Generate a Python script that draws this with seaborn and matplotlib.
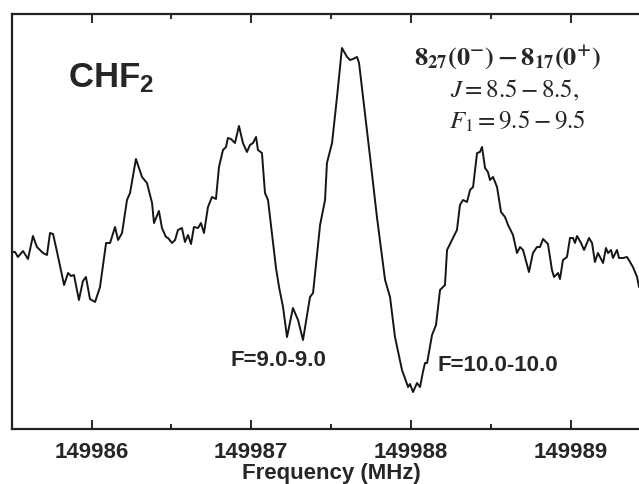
import numpy as np
import pandas as pd
import seaborn as sns
import matplotlib.pyplot as plt
from matplotlib.ticker import MultipleLocator, StrMethodFormatter

# spectrum (frequency in MHz, intensity in arbitrary units)
freq = [
    149985.502, 149985.521, 149985.539, 149985.571, 149985.602, 149985.633, 149985.658,
    149985.696, 149985.721, 149985.740, 149985.759, 149985.784, 149985.828, 149985.853,
    149985.871, 149985.890, 149985.921, 149985.946, 149985.965, 149985.990, 149986.022,
    149986.053, 149986.091, 149986.116, 149986.147, 149986.166, 149986.191, 149986.222,
    149986.241, 149986.278, 149986.316, 149986.347, 149986.379, 149986.391, 149986.422,
    149986.441, 149986.466, 149986.479, 149986.504, 149986.523, 149986.541, 149986.566,
    149986.585, 149986.604, 149986.623, 149986.641, 149986.667, 149986.685, 149986.704,
    149986.729, 149986.754, 149986.779, 149986.798, 149986.823, 149986.842, 149986.854,
    149986.873, 149986.898, 149986.923, 149986.948, 149986.973, 149986.992, 149987.011,
    149987.030, 149987.042, 149987.067, 149987.086, 149987.105, 149987.155, 149987.174,
    149987.199, 149987.224, 149987.261, 149987.293, 149987.324, 149987.368, 149987.387,
    149987.431, 149987.462, 149987.474, 149987.506, 149987.537, 149987.568, 149987.600,
    149987.618, 149987.637, 149987.662, 149987.675, 149987.700, 149987.744, 149987.787,
    149987.838, 149987.869, 149987.900, 149987.944, 149987.982, 149987.994, 149988.013,
    149988.038, 149988.057, 149988.075, 149988.088, 149988.101, 149988.132, 149988.157,
    149988.182, 149988.213, 149988.226, 149988.257, 149988.288, 149988.307, 149988.326,
    149988.351, 149988.370, 149988.389, 149988.414, 149988.432, 149988.445, 149988.464,
    149988.482, 149988.495, 149988.514, 149988.539, 149988.564, 149988.589, 149988.608,
    149988.639, 149988.664, 149988.683, 149988.702, 149988.739, 149988.764, 149988.789,
    149988.808, 149988.827, 149988.858, 149988.883, 149988.896, 149988.921, 149988.933,
    149988.952, 149988.977, 149988.996, 149989.015, 149989.027, 149989.040, 149989.065,
    149989.084, 149989.115, 149989.134, 149989.152, 149989.171, 149989.203, 149989.221,
    149989.234, 149989.253, 149989.265, 149989.290, 149989.303, 149989.328, 149989.353,
    149989.372, 149989.390, 149989.416, 149989.428,
]
intensity = [
    177, 177, 172, 178, 170, 193, 182,
    176, 174, 196, 195, 177, 144, 156,
    153, 154, 129, 148, 152, 130, 127,
    142, 186, 186, 202, 189, 196, 229,
    236, 270, 252, 246, 226, 206, 218,
    201, 192, 191, 186, 189, 199, 201,
    187, 194, 185, 202, 201, 206, 196,
    222, 232, 230, 262, 279, 282, 291,
    290, 286, 303, 286, 277, 284, 286,
    292, 279, 276, 236, 229, 161, 142,
    122, 92, 121, 109, 89, 132, 136,
    204, 229, 266, 286, 332, 381, 372,
    369, 370, 372, 366, 332, 272, 212,
    149, 132, 92, 59, 42, 45, 37,
    46, 42, 57, 66, 66, 94, 104,
    139, 144, 179, 189, 199, 224, 229,
    227, 239, 242, 276, 277, 282, 261,
    257, 249, 252, 242, 217, 212, 204,
    194, 176, 182, 179, 157, 176, 182,
    182, 190, 185, 159, 152, 156, 150,
    169, 172, 191, 191, 186, 193, 186,
    179, 191, 186, 167, 176, 166, 181,
    176, 179, 171, 179, 171, 171, 172,
    167, 162, 152, 142,
]
major_ticks = [149986, 149987, 149988, 149989]

df = pd.DataFrame({"Frequency": freq, "Intensity": intensity})

sns.set_style("ticks")
plt.rcParams["font.family"] = ["Liberation Sans", "DejaVu Sans"]
plt.rcParams["mathtext.fontset"] = "custom"
plt.rcParams["mathtext.bf"] = "Liberation Sans:bold"
plt.rcParams["mathtext.rm"] = "Liberation Sans:bold"

fig = plt.figure(figsize=(6.39, 4.84), dpi=100)
ax = fig.add_axes([0.0183, 0.1136, 0.9817, 0.8569])

sns.lineplot(data=df, x="Frequency", y="Intensity", estimator=None,
             color="#151515", linewidth=1.4, ax=ax)

ax.set_xlim(149985.5, 149989.428)
ax.set_ylim(0, 414.7)
ax.set_xticks(major_ticks)
ax.xaxis.set_minor_locator(MultipleLocator(0.5))
ax.xaxis.set_major_formatter(StrMethodFormatter("{x:.0f}"))
ax.set_yticks([])
ax.tick_params(axis="x", which="both", direction="in", top=True, width=1.4,
               labelsize=16, pad=9)
ax.tick_params(axis="x", which="major", length=6.5)
ax.tick_params(axis="x", which="minor", length=3.5)
for lbl in ax.get_xticklabels():
    lbl.set_fontweight("bold")
ax.set_xlabel("Frequency (MHz)", fontsize=16, fontweight="bold")
ax.xaxis.set_label_coords(0.509, -0.083)
ax.set_ylabel("")
for side in ["left", "top", "bottom"]:
    ax.spines[side].set_linewidth(1.6)
    ax.spines[side].set_color("#222222")
ax.spines["right"].set_visible(False)

ax.text(0.0897, 0.825, r"$\mathbf{CHF_2}$", transform=ax.transAxes,
        fontsize=25, ha="left", va="baseline")

ax.text(0.791, 0.895, r"$\mathbf{8_{27}(0^{-})-8_{17}(0^{+})}$", transform=ax.transAxes,
        fontsize=19, ha="center", va="center", math_fontfamily="stix")
ax.text(0.801, 0.817, r"$J=8.5-8.5,$", transform=ax.transAxes,
        fontsize=18, ha="center", va="center", math_fontfamily="stix",
        fontweight="normal")
ax.text(0.806, 0.743, r"$F_1=9.5-9.5$", transform=ax.transAxes,
        fontsize=18, ha="center", va="center", math_fontfamily="stix",
        fontweight="normal")

ax.text(149986.867, 69, "F=9.0-9.0", fontsize=16, fontweight="bold",
        ha="left", va="center")
ax.text(149988.169, 64, "F=10.0-10.0", fontsize=16, fontweight="bold",
        ha="left", va="center")

fig.savefig("out.png", dpi=100)
